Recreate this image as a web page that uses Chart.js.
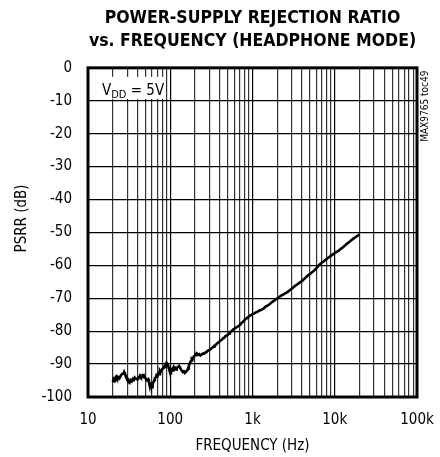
<!DOCTYPE html>
<html>
<head>
<meta charset="utf-8">
<script src="https://cdn.jsdelivr.net/npm/chart.js@4.4.1/dist/chart.umd.min.js"></script>
<style>
  body{margin:0;background:#fff;}
  #psrr{display:block;}
</style>
</head>
<body>
<canvas id="psrr" width="440" height="457"></canvas>
<script>
// PSRR sweep, headphone mode, VDD = 5V
var freqHz = [
    20,20.5,21,21.5,22,22.5,23,24,25,26,
    27,27.5,28,29,30,30.5,31,32,33,34,
    35,36,37,38.5,40,41,42,43,44,46,
    47,48,50,52,54,55,57,58,60,61,
    62,64,65,67,68,70,72,73,75,76,
    78,80,83,85,87,88,90,92,94,95,
    97,98,100,102,104,106,108,110,113,115,
    118,120,124,128,131,135,138,142,146,150,
    154,158,162,165,168,172,176,180,183,186,
    190,195,200,205,209,213,218,225,232,240,
    248,257,265,275,285,295,305,320,330,340,
    348,355,365,380,395,410,425,440,455,470,
    495,519,530,542,560,580,600,620,645,670,
    690,712,735,760,790,820,850,880,910,941,
    970,1000,1050,1100,1150,1200,1280,1370,1430,1500,
    1600,1700,1820,1980,2100,2200,2350,2500,2680,2880,
    3080,3300,3500,3700,3950,4170,4450,4700,5000,5300,
    5650,6050,6350,6700,7100,7500,8100,8800,9200,9700,
    10400,11100,11800,12500,13300,14100,15000,16000,17000,18000,
    19000,20000];
var psrrDb = [
    -95.5,-94.6,-95.0,-94.2,-93.8,-94.3,-93.9,-94.4,-93.5,-93.0,
    -92.9,-92.4,-92.9,-93.6,-94.8,-94.2,-95.4,-95.7,-94.9,-95.2,
    -94.5,-94.8,-94.1,-94.5,-94.7,-94.1,-94.0,-93.5,-93.9,-93.4,
    -93.8,-93.5,-94.3,-94.9,-94.6,-95.5,-95.9,-96.5,-97.0,-96.2,
    -95.7,-94.9,-94.2,-94.0,-93.4,-93.7,-92.9,-93.1,-92.3,-92.6,
    -91.9,-91.5,-91.2,-90.7,-90.9,-90.2,-89.6,-89.9,-90.4,-90.8,
    -91.3,-91.6,-91.9,-92.2,-91.7,-91.9,-91.3,-90.9,-91.5,-91.2,
    -91.6,-91.1,-90.9,-90.6,-91.0,-91.6,-92.0,-92.4,-92.2,-92.7,
    -92.4,-92.1,-91.8,-91.3,-90.6,-89.9,-89.3,-88.9,-88.5,-88.7,
    -88.0,-87.6,-87.3,-87.0,-86.7,-86.9,-87.2,-87.0,-87.4,-87.1,
    -86.8,-86.9,-86.5,-86.4,-86.0,-85.8,-85.6,-85.1,-84.9,-84.5,
    -84.6,-84.2,-83.9,-83.5,-83.2,-82.8,-82.6,-82.1,-82.0,-81.5,
    -81.2,-80.7,-80.6,-80.2,-80.0,-79.5,-79.3,-79.0,-78.8,-78.5,
    -78.3,-78.0,-77.5,-77.2,-76.8,-76.3,-76.1,-75.8,-75.4,-75.2,
    -75.1,-74.8,-74.6,-74.3,-74.1,-73.8,-73.5,-73.1,-72.6,-72.3,
    -71.9,-71.3,-70.8,-70.1,-69.7,-69.3,-68.9,-68.5,-68.1,-67.4,
    -66.9,-66.2,-65.8,-65.3,-64.9,-64.3,-63.7,-63.1,-62.6,-62.1,
    -61.5,-60.8,-60.1,-59.5,-59.0,-58.6,-57.9,-57.3,-56.9,-56.5,
    -56.0,-55.6,-55.0,-54.6,-54.0,-53.4,-52.9,-52.3,-51.8,-51.4,
    -51.0,-50.7];

var xDecades = [10,100,1000,10000,100000];
var xTickLabels = ['10','100','1k','10k','100k'];
var yMin = -100, yMax = 0, yStep = 10;

var narrow = "'Liberation Sans Narrow','DejaVu Sans Condensed',sans-serif";

// grid at every 1..9 multiple inside each decade
var gridFreqs = [];
for(let d=0; d<xDecades.length-1; d++){
    for(let m=1; m<10; m++) gridFreqs.push(xDecades[d]*m);
}
gridFreqs.push(xDecades[xDecades.length-1]);

var points = freqHz.map(function(f,i){ return {x:f, y:psrrDb[i]}; });

//********************************************** */
var extras = {
    id: 'extras',
    afterDatasetsDraw(chart){
        const ctx = chart.ctx, a = chart.chartArea;
        ctx.save();
        // supply label box sits over the grid
        ctx.fillStyle = '#fff';
        ctx.fillRect(a.left+1, a.top+9, 76, 22);
        ctx.fillStyle = '#000';
        ctx.textBaseline = 'alphabetic';
        ctx.textAlign = 'left';
        let x = a.left + 14, y = a.top + 27;
        ctx.font = '15px ' + narrow;
        ctx.fillText('V', x, y);
        x += ctx.measureText('V').width;
        ctx.font = '11px ' + narrow;
        ctx.fillText('DD', x, y + 3);
        x += ctx.measureText('DD').width;
        ctx.font = '15px ' + narrow;
        ctx.fillText(' = 5V', x, y);
        ctx.restore();
    },
    afterDraw(chart){
        const ctx = chart.ctx, a = chart.chartArea;
        ctx.save();
        ctx.strokeStyle = '#000';
        ctx.lineWidth = 3;
        ctx.strokeRect(a.left, a.top, a.right-a.left, a.bottom-a.top);
        // y axis title, rotated
        ctx.fillStyle = '#000';
        ctx.font = '15px ' + narrow;
        ctx.textAlign = 'center';
        ctx.textBaseline = 'middle';
        ctx.translate(22, (a.top+a.bottom)/2 - 14);
        ctx.rotate(-Math.PI/2);
        ctx.fillText('PSRR (dB)', 0, 0);
        ctx.restore();
        // figure id on the right edge
        ctx.save();
        ctx.fillStyle = '#000';
        ctx.font = '10px ' + narrow;
        ctx.textAlign = 'left';
        ctx.textBaseline = 'middle';
        ctx.translate(a.right + 8, a.top + 74);
        ctx.rotate(-Math.PI/2);
        ctx.fillText('MAX9765 toc49', 0, 0);
        ctx.restore();
    }
};

//********************************************** */
new Chart('psrr', {
    type: 'line',
    data: {
        datasets: [{
            label: 'PSRR',
            data: points,
            borderColor: '#000',
            borderWidth: 2.6,
            pointRadius: 0,
            tension: 0,
            fill: false,
        }]
    },
    options: {
        responsive: false,
        animation: false,
        layout: {padding: {top: 0, right: 23, bottom: 0, left: 0}},
        scales: {
            x: {
                type: 'logarithmic',
                min: xDecades[0],
                max: xDecades[xDecades.length-1],
                afterBuildTicks(scale){
                    scale.ticks = gridFreqs.map(function(v){ return {value: v}; });
                },
                afterFit(scale){
                    scale.height = 60;
                    scale.paddingLeft = 0;
                    scale.paddingRight = 0;
                },
                ticks: {
                    autoSkip: false,
                    maxRotation: 0,
                    padding: 14,
                    color: '#000',
                    font: {family: narrow, size: 15},
                    callback: function(v){
                        let k = xDecades.indexOf(v);
                        return k < 0 ? '' : xTickLabels[k];
                    }
                },
                grid: {
                    drawTicks: false,
                    color: function(c){
                        return (c.tick && xDecades.indexOf(c.tick.value) >= 0) ? '#000' : '#333';
                    },
                    lineWidth: 1.2,
                },
                border: {display: false},
                title: {
                    display: true,
                    text: 'FREQUENCY (Hz)',
                    color: '#000',
                    font: {family: narrow, size: 15},
                    padding: {top: 0, bottom: 2},
                }
            },
            y: {
                min: yMin,
                max: yMax,
                afterFit(scale){ scale.width = 88; },
                ticks: {
                    stepSize: yStep,
                    padding: 16,
                    color: '#000',
                    font: {family: narrow, size: 15},
                },
                grid: {drawTicks: false, color: '#000', lineWidth: 1.2},
                border: {display: false},
            }
        },
        plugins: {
            legend: {display: false},
            tooltip: {enabled: false},
            title: {
                display: true,
                fullSize: false,
                text: ['POWER-SUPPLY REJECTION RATIO', 'vs. FREQUENCY (HEADPHONE MODE)'],
                color: '#000',
                font: {family: narrow, size: 17.5, weight: 'bold', lineHeight: 1.31},
                padding: {top: 7, bottom: 15},
            }
        }
    },
    plugins: [extras]
});
</script>
</body>
</html>
